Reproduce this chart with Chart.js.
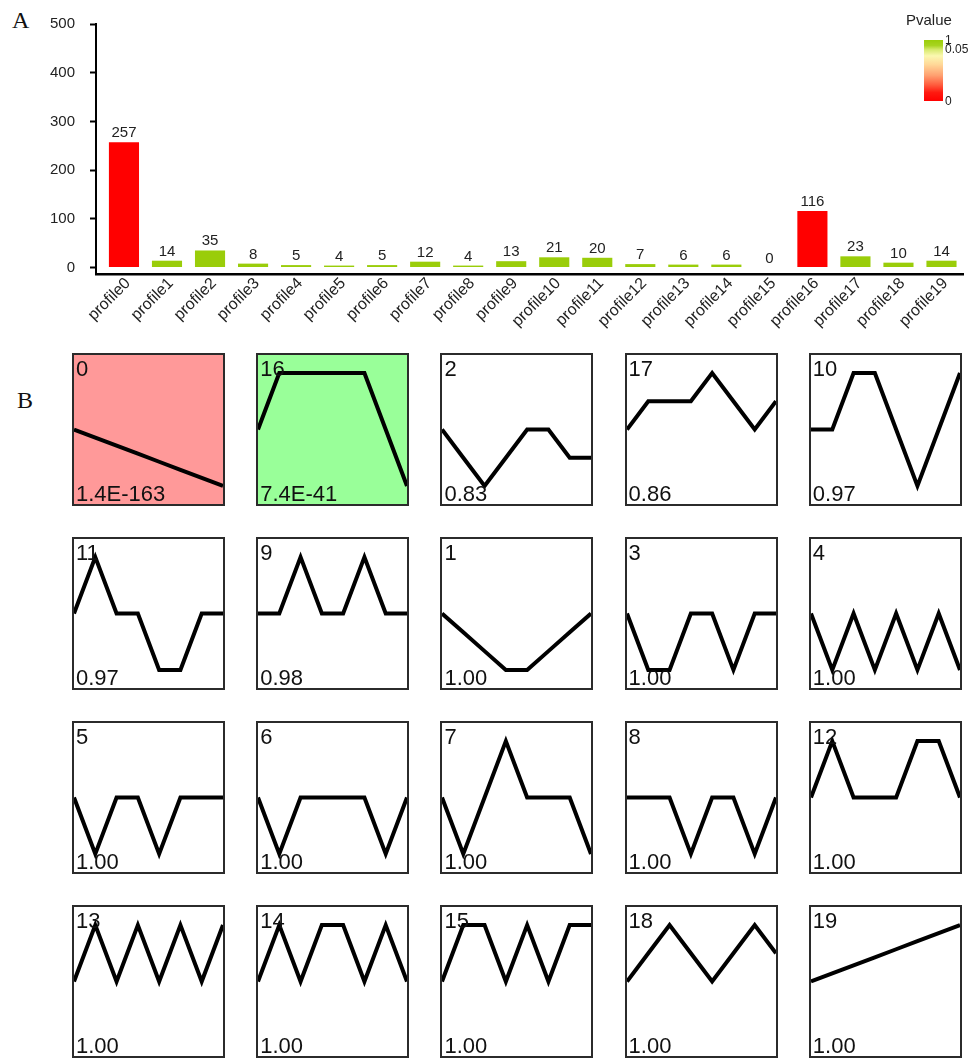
<!DOCTYPE html>
<html>
<head>
<meta charset="utf-8">
<script src="https://cdn.jsdelivr.net/npm/chart.js@4.4.1/dist/chart.umd.min.js"></script>
<style>
html,body{margin:0;padding:0;background:#fff;}
#wrap{position:relative;width:979px;height:1060px;overflow:hidden;font-family:"Liberation Sans",Arial,sans-serif;color:#222;}
.letter{position:absolute;font-family:"Liberation Serif","Times New Roman",serif;font-size:24px;line-height:24px;color:#111;}
#barBox{position:absolute;left:0;top:0;width:979px;height:340px;}
.panel{position:absolute;width:149px;height:149px;border:2px solid #2b2b2b;box-sizing:content-box;overflow:hidden;}
.panel canvas{position:absolute;left:0;top:0;}
.pid,.pval{position:absolute;left:2px;font-size:22px;line-height:22px;color:#111;white-space:nowrap;}
.pid{top:3px;}
.pval{bottom:-1px;}
#legTitle{position:absolute;left:906px;top:12px;font-size:15px;line-height:15px;color:#222;}
#legBar{position:absolute;left:924px;top:40px;width:19px;height:61px;
 background:linear-gradient(to bottom,#9acd0a 0%,#a8d420 9%,#d8ea70 16%,#fbf8b0 26%,#ffd898 40%,#ffa070 58%,#ff5a3c 74%,#ff1a10 86%,#ff0000 100%);}
.legLab{position:absolute;left:945px;font-size:12px;line-height:12px;color:#222;}
</style>
</head>
<body>
<div id="wrap">
  <div class="letter" style="left:12px;top:8px;">A</div>
  <div class="letter" style="left:17px;top:388px;">B</div>
  <div id="barBox"><canvas id="bars" width="979" height="340"></canvas></div>
  <div id="legTitle">Pvalue</div>
  <div id="legBar"></div>
  <div class="legLab" style="top:34px;">1</div>
  <div class="legLab" style="top:43px;">0.05</div>
  <div class="legLab" style="top:95px;">0</div>
</div>
<script>
// ---------- data ----------
const categories = ['profile0','profile1','profile2','profile3','profile4','profile5','profile6','profile7','profile8','profile9',
  'profile10','profile11','profile12','profile13','profile14','profile15','profile16','profile17','profile18','profile19'];
const geneCounts = [257,14,35,8,5,4,5,12,4,13,21,20,7,6,6,0,116,23,10,14];
const yTickValues = [0,100,200,300,400,500];
const pValueText = ['1.4E-163','1.00','0.83','1.00','1.00','1.00','1.00','1.00','1.00','0.98',
  '0.97','0.97','1.00','1.00','1.00','1.00','7.4E-41','0.86','1.00','1.00'];
const timePoints = ['0','1','2','3','4','5','6','7'];
const profileShapes = [
  [0,-1,-2,-3,-4,-5,-6,-7], // 0
  [0,-1,-2,-3,-3,-2,-1,0],  // 1
  [0,-1,-2,-1,0,0,-1,-1],   // 2
  [0,-1,-1,0,0,-1,0,0],     // 3
  [0,-1,0,-1,0,-1,0,-1],    // 4
  [0,-1,0,0,-1,0,0,0],      // 5
  [0,-1,0,0,0,0,-1,0],      // 6
  [0,-1,0,1,0,0,0,-1],      // 7
  [0,0,0,-1,0,0,-1,0],      // 8
  [0,0,2,0,0,2,0,0],        // 9
  [0,0,2,2,0,-2,0,2],       // 10
  [0,2,0,0,-2,-2,0,0],      // 11
  [0,1,0,0,0,1,1,0],        // 12
  [0,1,0,1,0,1,0,1],        // 13
  [0,1,0,1,1,0,1,0],        // 14
  [0,1,1,0,1,0,1,1],        // 15
  [0,2,2,2,2,2,0,-2],       // 16
  [0,1,1,1,2,1,0,1],        // 17
  [0,1,2,1,0,1,2,1],        // 18
  [0,1,2,3,4,5,6,7]         // 19
];
const panelOrder = [0,16,2,17,10, 11,9,1,3,4, 5,6,7,8,12, 13,14,15,18,19];

// ---------- styles ----------
const FONT = '"Liberation Sans", Arial, sans-serif';
Chart.defaults.font.family = FONT;
const SIG_COLOR = '#ff0000', NS_COLOR = '#9acd0a';
const panelBg = {0:'#ff9999', 16:'#99ff99'};

// ---------- panel A ----------
const valueLabels = {
  id:'valueLabels',
  afterDatasetsDraw(chart){
    const ctx = chart.ctx, meta = chart.getDatasetMeta(0);
    ctx.save();
    ctx.font = '15px ' + FONT; ctx.fillStyle = '#222';
    ctx.textAlign = 'center'; ctx.textBaseline = 'alphabetic';
    meta.data.forEach((bar,i)=>{ ctx.fillText(String(geneCounts[i]), bar.x, bar.y - 5); });
    ctx.restore();
  }
};

new Chart(document.getElementById('bars'), {
  type:'bar',
  data:{
    datasets:[{
      data: geneCounts.map((v,i)=>({x:i, y:v})),
      backgroundColor: pValueText.map(p => parseFloat(p) < 0.05 ? SIG_COLOR : NS_COLOR),
      borderWidth:0,
      categoryPercentage:1, barPercentage:0.7
    }]
  },
  options:{
    responsive:false, animation:false, events:[],
    layout:{padding:{left:0, top:23, right:16, bottom:0}},
    plugins:{legend:{display:false}, tooltip:{enabled:false}},
    scales:{
      x:{
        type:'linear', min:-0.65, max:19.5, offset:false,
        afterBuildTicks: s => { s.ticks = categories.map((c,i)=>({value:i})); },
        ticks:{callback: v => categories[v], autoSkip:false, minRotation:45, maxRotation:45,
               font:{size:16}, color:'#222', padding:0, labelOffset:4},
        grid:{display:false, drawTicks:false, tickLength:0},
        border:{display:true, color:'#000', width:2.5},
        afterFit: s => { s.height = 66; }
      },
      y:{
        min:-13.3, max:500,
        afterBuildTicks: s => { s.ticks = yTickValues.map(v=>({value:v})); },
        ticks:{font:{size:15}, color:'#222', padding:15},
        grid:{drawOnChartArea:false, drawTicks:true, tickLength:6, tickWidth:2, tickColor:'#000'},
        border:{display:true, color:'#000', width:2},
        afterFit: s => { s.width = 96; }
      }
    }
  },
  plugins:[valueLabels]
});

// ---------- panel B ----------
const wrap = document.getElementById('wrap');
panelOrder.forEach((pid, k) => {
  const r = Math.floor(k/5), c = k % 5;
  const div = document.createElement('div');
  div.className = 'panel';
  div.style.left = (72 + 184.2*c) + 'px';
  div.style.top = (353 + 184*r) + 'px';
  div.style.background = panelBg[pid] || '#fff';
  const cv = document.createElement('canvas');
  cv.width = 149; cv.height = 149;
  div.appendChild(cv);
  const t1 = document.createElement('div'); t1.className='pid'; t1.textContent = String(pid);
  const t2 = document.createElement('div'); t2.className='pval'; t2.textContent = pValueText[pid];
  div.appendChild(t1); div.appendChild(t2);
  wrap.appendChild(div);
  const vals = profileShapes[pid];
  const m = Math.max(...vals.map(Math.abs)) * 1.32;
  new Chart(cv, {
    type:'line',
    data:{labels: timePoints, datasets:[{data: vals, borderColor:'#000', borderWidth:4,
      pointRadius:0, tension:0, fill:false, borderJoinStyle:'miter', borderCapStyle:'butt'}]},
    options:{
      responsive:false, animation:false, events:[],
      layout:{padding:0},
      plugins:{legend:{display:false}, tooltip:{enabled:false}},
      scales:{
        x:{display:false, offset:false},
        y:{display:false, min:-m, max:m}
      }
    }
  });
});
</script>
</body>
</html>
